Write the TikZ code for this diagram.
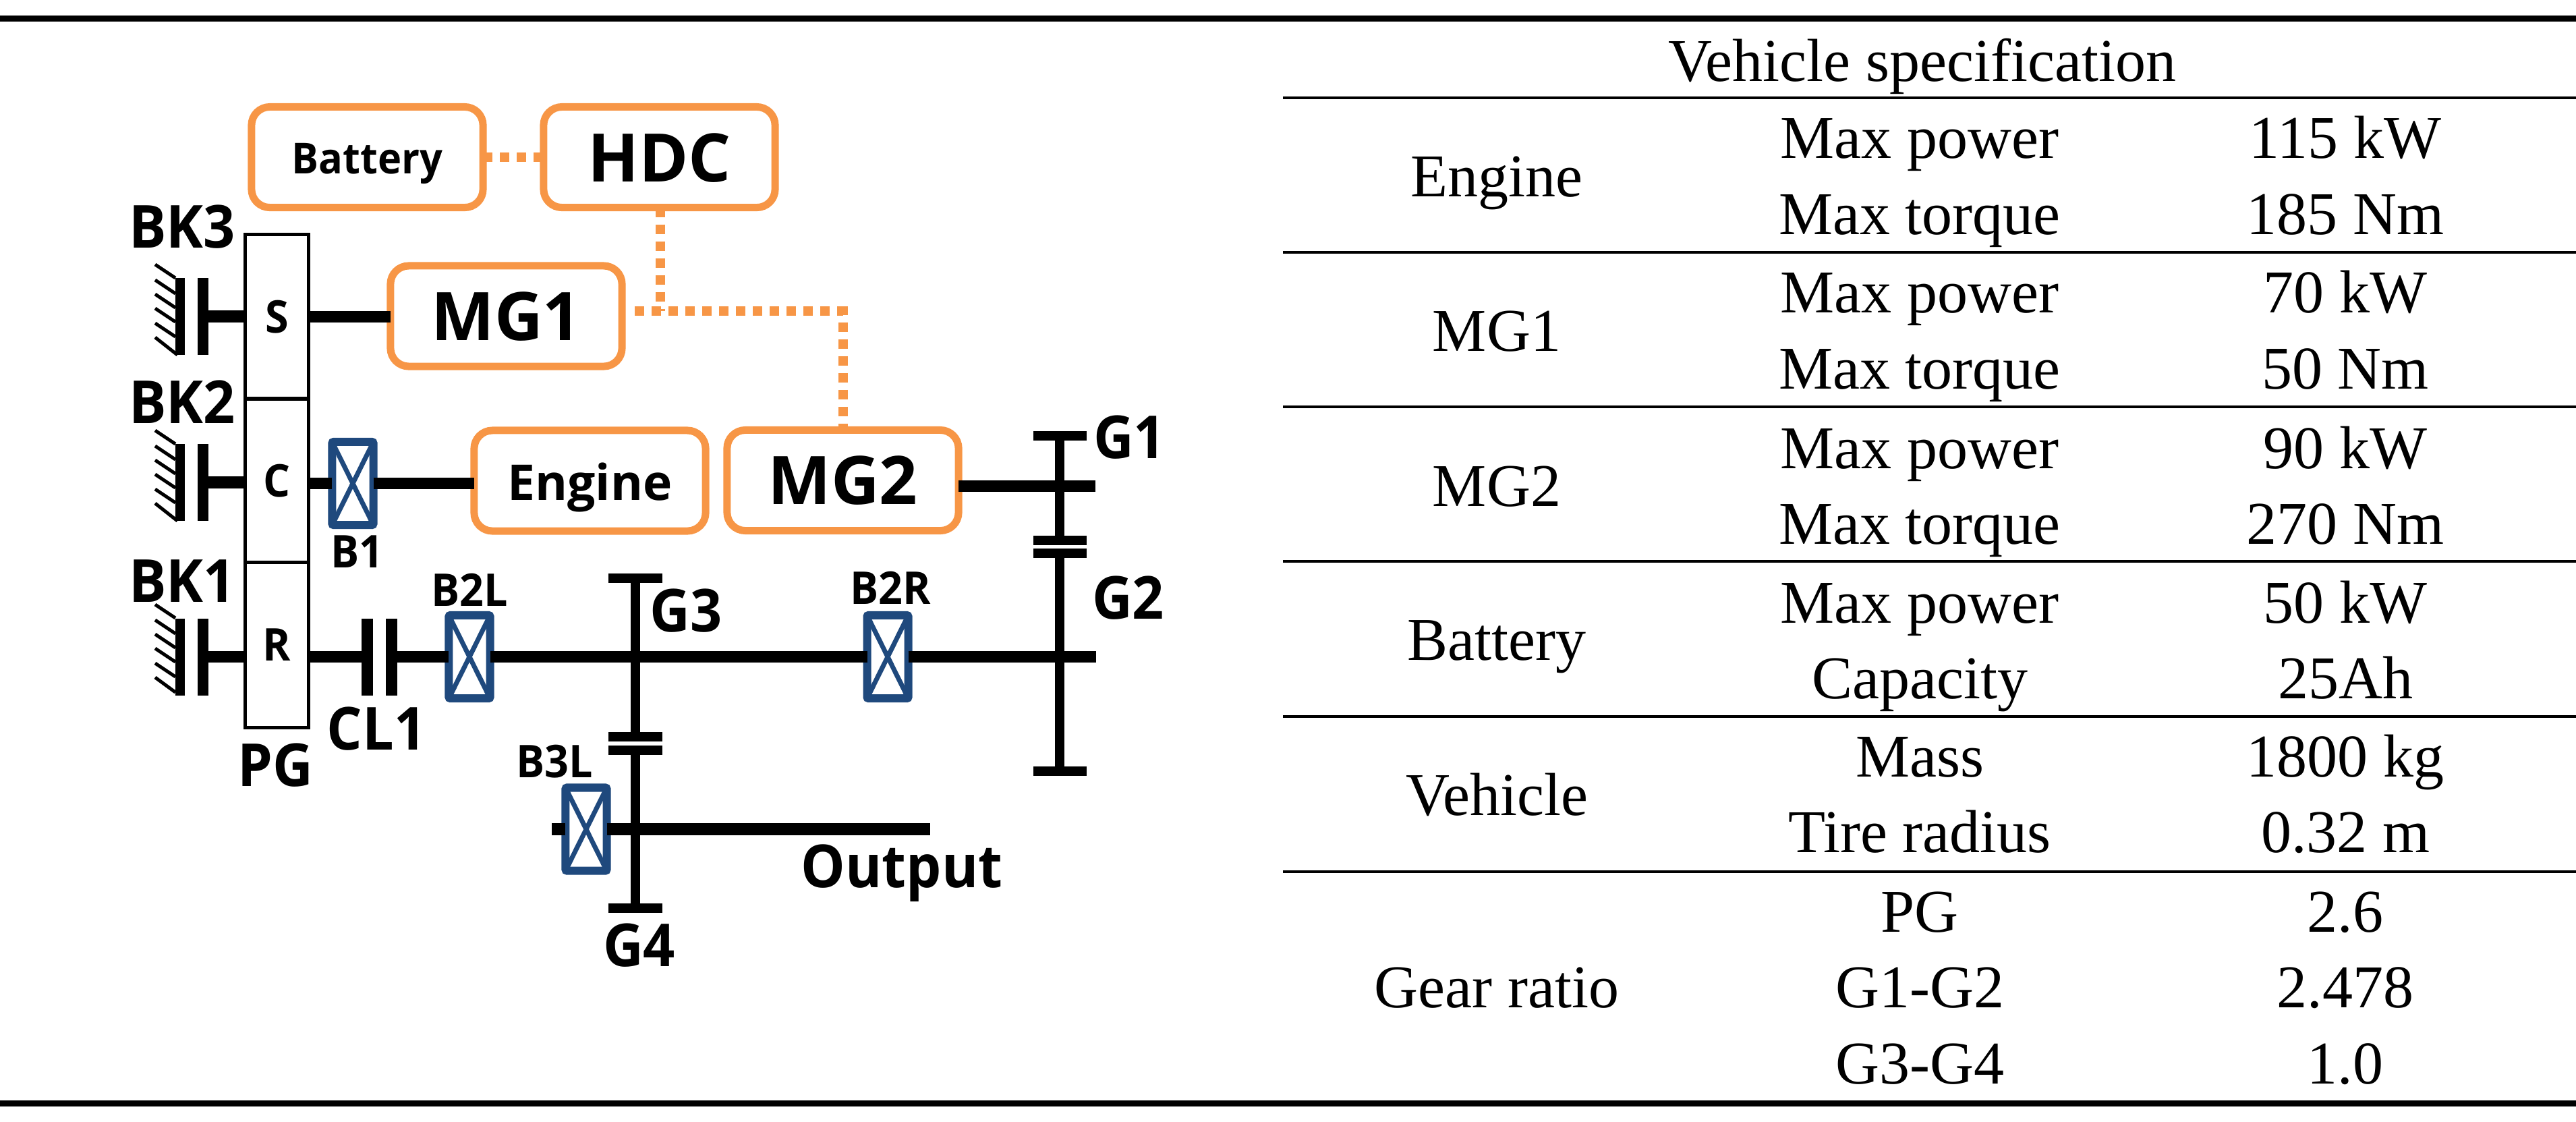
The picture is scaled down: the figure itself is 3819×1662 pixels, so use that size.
\documentclass[tikz,border=0pt]{standalone}
\usepackage{fontspec}
\setmainfont{Liberation Serif}
\newfontfamily\lblfont[FakeStretch=0.94]{Open Sans}
\newfontfamily\unitfont{Open Sans}
\definecolor{hdcorange}{HTML}{F79646}
\definecolor{brgblue}{HTML}{1F497D}
\usetikzlibrary{positioning}

\begin{document}
\begin{tikzpicture}[x=0.01cm, y=-0.01cm,
    every node/.style={inner sep=0pt, outer sep=0pt},
    unit/.style={draw=hdcorange, line width=.11cm, rounded corners=.27cm, minimum width=3.43cm, minimum height=1.49cm, text depth=0pt, font=\unitfont\bfseries\fontsize{28.2}{32}\selectfont},
    pgpart/.style={draw=black, line width=.05cm, minimum width=.93cm, text height=.48cm, text depth=0pt, font=\lblfont\bfseries\fontsize{19}{22}\selectfont},
    bearing/.style={draw=brgblue, fill=white, line width=.12cm, rounded corners=.02cm, minimum width=.61cm, minimum height=1.23cm,
        path picture={\draw[brgblue, line width=.07cm] (path picture bounding box.north west) -- (path picture bounding box.south east) (path picture bounding box.north east) -- (path picture bounding box.south west);}},
    bar/.style={fill=black, minimum width=.16cm, minimum height=1.14cm},
    gearcap/.style={fill=black, minimum width=.79cm, minimum height=.14cm},
    biglabel/.style={anchor=base, font=\lblfont\bfseries\fontsize{25}{30}\selectfont},
    smalllabel/.style={anchor=base, font=\lblfont\bfseries\fontsize{19}{22}\selectfont},
    cell/.style={anchor=base, font=\fontsize{25.6}{30}\selectfont},
    shaft/.style={line width=.175cm},
    gearline/.style={line width=.14cm},
    link/.style={draw=hdcorange, line width=.14cm, dash pattern=on .14cm off .11cm},
    hatch/.style={line width=.05cm},
    rulethick/.style={line width=.09cm},
    rulethin/.style={line width=.04cm}]

    \useasboundingbox (0,0) rectangle (3819,1662);

    % Power units
    \node[unit, text height=.48cm, font=\lblfont\bfseries\fontsize{18}{22}\selectfont] (battery) at (544.5,233) {Battery};
    \node[unit, text height=.72cm] (hdc) at (977.5,233) {HDC};
    \node[unit, text height=.71cm] (mg1) at (750.5,468.5) {MG1};
    \node[unit, text height=.58cm, font=\unitfont\bfseries\fontsize{20.8}{24}\selectfont] (engine) at (874.5,712.5) {Engine};
    \node[unit, text height=.71cm] (mg2) at (1249.5,712) {MG2};

    % Planetary gear
    \node[pgpart, minimum height=2.43cm] (sun) at (410.5,469.5) {S};
    \node[pgpart, minimum height=2.425cm] (carrier) at (410.5,712.25) {C};
    \node[pgpart, minimum height=2.445cm] (ring) at (410.5,955.75) {R};
    \node[biglabel] (pg) at (408,1165) {PG};

    % Brakes
    \node[bar, minimum width=.14cm] (bk3a) at (267,469) {};
    \node[bar] (bk3b) at (301,469) {};
    \node[bar, minimum width=.14cm] (bk2a) at (267,715) {};
    \node[bar] (bk2b) at (301,715) {};
    \node[bar, minimum width=.14cm] (bk1a) at (267,973.5) {};
    \node[bar] (bk1b) at (301,973.5) {};
    \node[biglabel] (bk3) at (270,367) {BK3};
    \node[biglabel] (bk2) at (270,627) {BK2};
    \node[biglabel] (bk1) at (270,892) {BK1};
    \draw[hatch] (230,392) -- ++(30,20) (230,415) -- ++(30,20) (230,436) -- ++(30,20) (230,457) -- ++(30,20) (230,479) -- ++(30,20) (230,500) -- ++(33,26);
    \draw[hatch] (230,638) -- ++(30,20) (230,661) -- ++(30,20) (230,682) -- ++(30,20) (230,703) -- ++(30,20) (230,725) -- ++(30,20) (230,746) -- ++(33,26);
    \draw[hatch] (230,896) -- ++(30,20) (230,919) -- ++(30,20) (230,940) -- ++(30,20) (230,961) -- ++(30,20) (230,983) -- ++(30,20) (230,1004) -- ++(30,22);

    % Bearings and clutch
    \node[bearing] (b1) at (523,716.5) {};
    \node[bearing] (b2l) at (696,973.5) {};
    \node[bearing] (b2r) at (1316,973.5) {};
    \node[bearing] (b3l) at (869,1229) {};
    \node[bar, minimum width=.17cm] (cl1a) at (544.5,973.5) {};
    \node[bar, minimum width=.17cm] (cl1b) at (580,973.5) {};
    \node[smalllabel] (b1lbl) at (529.5,841) {B1};
    \node[smalllabel] (b2llbl) at (696.5,898) {B2L};
    \node[smalllabel] (b2rlbl) at (1320.5,895) {B2R};
    \node[smalllabel] (b3llbl) at (822,1152) {B3L};
    \node[biglabel] (cl1) at (558,1111) {CL1};

    % Gears
    \node[gearcap] (g1top) at (1571,646) {};
    \node[gearcap] (g1low) at (1571,801) {};
    \node[gearcap] (g2top) at (1571,820) {};
    \node[gearcap] (g2low) at (1571,1143) {};
    \node[gearcap] (g3top) at (942,857) {};
    \node[gearcap] (g3low) at (942,1091.5) {};
    \node[gearcap] (g4top) at (942,1111.5) {};
    \node[gearcap] (g4low) at (942,1346) {};
    \node[biglabel] (g1) at (1674.5,679) {G1};
    \node[biglabel] (g2) at (1672.5,917) {G2};
    \node[biglabel] (g3) at (1017,936) {G3};
    \node[biglabel] (g4) at (947.5,1432) {G4};
    \node[biglabel] (output) at (1337,1315) {Output};
    \coordinate (g1end) at (1624,720.5);
    \coordinate (g2end) at (1625,973.5);
    \coordinate (outstart) at (818,1229);
    \coordinate (outend) at (1379,1229);

    % Shafts
    \path[draw, shaft]
    (sun.east) edge (sun.east -| mg1.west)
    (bk3b) edge (bk3b -| sun.west)
    (bk2b) edge (bk2b -| carrier.west)
    (bk1b) edge (bk1b -| ring.west)
    (carrier.east |- b1) edge (b1)
    (b1) edge (b1 -| engine.west)
    (ring.east |- cl1a) edge (cl1a)
    (cl1b) edge (b2l)
    (b2l) edge (b2r)
    (b2r) edge (g2end)
    (mg2.east |- g1end) edge (g1end)
    (outstart) edge (b3l)
    (b3l) edge (outend);
    \path[draw, gearline]
    (g1top) edge (g1low)
    (g2top) edge (g2low)
    (g3top) edge (g3low)
    (g4top) edge (g4low);

    % HDC links
    \coordinate (jn) at (979,461);
    \draw[link] (battery) -- (hdc);
    \draw[link] (hdc.south -| jn) -- (jn);
    \draw[link, shorten <=.19cm] (jn -| mg1.east) -- (jn -| mg2.north) -- (mg2.north);

    % Table rules
    \draw[rulethick] (0,27) -- (3819,27);
    \draw[rulethick] (0,1635.5) -- (3819,1635.5);
    \draw[rulethin] (1902,145) -- (3819,145);
    \draw[rulethin] (1902,374) -- (3819,374);
    \draw[rulethin] (1902,603) -- (3819,603);
    \draw[rulethin] (1902,832) -- (3819,832);
    \draw[rulethin] (1902,1062) -- (3819,1062);
    \draw[rulethin] (1902,1291.5) -- (3819,1291.5);

    % Table cells
    \node[cell] (head) at (2850,120) {Vehicle specification};
    \node[cell] (tengine) at (2219,291.5) {Engine};
    \node[cell] (enga) at (2846,234) {Max power};
    \node[cell] (engb) at (2846,347) {Max torque};
    \node[cell] (engc) at (3477,234) {115 kW};
    \node[cell] (engd) at (3477,347) {185 Nm};
    \node[cell] (tmgone) at (2219,520) {MG1};
    \node[cell] (mgaa) at (2846,463) {Max power};
    \node[cell] (mgab) at (2846,576) {Max torque};
    \node[cell] (mgac) at (3477,463) {70 kW};
    \node[cell] (mgad) at (3477,576) {50 Nm};
    \node[cell] (tmgtwo) at (2219,750) {MG2};
    \node[cell] (mgba) at (2846,694) {Max power};
    \node[cell] (mgbb) at (2846,806) {Max torque};
    \node[cell] (mgbc) at (3477,694) {90 kW};
    \node[cell] (mgbd) at (3477,806) {270 Nm};
    \node[cell] (tbatt) at (2219,978) {Battery};
    \node[cell] (bata) at (2846,923) {Max power};
    \node[cell] (batb) at (2846,1035) {Capacity};
    \node[cell] (batc) at (3477,923) {50 kW};
    \node[cell] (batd) at (3477,1035) {25Ah};
    \node[cell] (tveh) at (2219,1208) {Vehicle};
    \node[cell] (veha) at (2846,1151) {Mass};
    \node[cell] (vehb) at (2846,1263.5) {Tire radius};
    \node[cell] (vehc) at (3477,1151) {1800 kg};
    \node[cell] (vehd) at (3477,1263.5) {0.32 m};
    \node[cell] (tgear) at (2219,1493) {Gear ratio};
    \node[cell] (geara) at (2846,1381) {PG};
    \node[cell] (gearb) at (2846,1493) {G1-G2};
    \node[cell] (gearc) at (2846,1606) {G3-G4};
    \node[cell] (geard) at (3477,1381) {2.6};
    \node[cell] (geare) at (3477,1493) {2.478};
    \node[cell] (gearf) at (3477,1606) {1.0};
\end{tikzpicture}
\end{document}
